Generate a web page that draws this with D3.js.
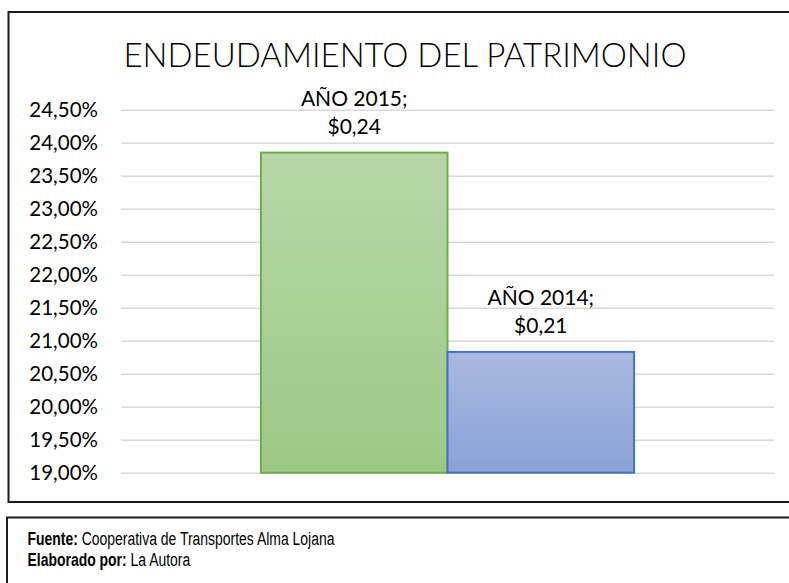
<!DOCTYPE html>
<html>
<head>
<meta charset="utf-8">
<script src="https://cdn.jsdelivr.net/npm/d3@7"></script>
<style>
  html, body { margin: 0; padding: 0; background: #fff; }
  svg { display: block; }
</style>
</head>
<body>
<div id="chart"></div>
<script>
// Endeudamiento del patrimonio: one category, two years
const categories = ["Endeudamiento del patrimonio"];
const seriesNames = ["AÑO 2015", "AÑO 2014"];
const seriesValues = [0.2385, 0.2083];
const yTicks = [0.19, 0.195, 0.20, 0.205, 0.21, 0.215, 0.22, 0.225, 0.23, 0.235, 0.24, 0.245];
const titleText = "ENDEUDAMIENTO DEL PATRIMONIO";
const footerLines = [
  ["Fuente:", " Cooperativa de Transportes Alma Lojana"],
  ["Elaborado por:", " La Autora"]
];

const W = 789, H = 583;
const plot = { left: 121, right: 774, top: 109.7, bottom: 472.7 };

const es = d3.formatLocale({ decimal: ",", thousands: ".", grouping: [3], currency: ["$", ""] });
const pct = es.format(".2%");
const money = es.format("$.2f");

const svg = d3.select("#chart").append("svg")
  .attr("width", W).attr("height", H);

// bar gradients
const defs = svg.append("defs");
const fills = [
  { id: "gGreen", top: "#b8d7a9", bottom: "#9cc985", stroke: "#6fac46" },
  { id: "gBlue", top: "#abb9e1", bottom: "#8ba1d7", stroke: "#4472c4" }
];
fills.forEach(f => {
  const lg = defs.append("linearGradient").attr("id", f.id)
    .attr("x1", 0).attr("y1", 0).attr("x2", 0).attr("y2", 1);
  lg.append("stop").attr("offset", "0%").attr("stop-color", f.top);
  lg.append("stop").attr("offset", "100%").attr("stop-color", f.bottom);
});

// chart frame
svg.append("rect")
  .attr("x", 8.5).attr("y", 12).attr("width", 800).attr("height", 490)
  .attr("fill", "#fff").attr("stroke", "#1a1a1a").attr("stroke-width", 2);

// title
svg.append("text")
  .attr("x", 405).attr("y", 66.7)
  .attr("text-anchor", "middle")
  .style("font-family", "Lato, 'Open Sans', sans-serif")
  .style("font-weight", 300)
  .style("font-size", "33px")
  .attr("fill", "#000")
  .text(titleText);

// scales
const y = d3.scaleLinear().domain([0.19, 0.245]).range([plot.bottom, plot.top]);
const x0 = d3.scaleBand().domain(categories).range([plot.left, plot.right])
  .paddingInner(0).paddingOuter(0.375);
const x1 = d3.scaleBand().domain(seriesNames).range([0, x0.bandwidth()]).padding(0);

// gridlines
const yAxis = d3.axisLeft(y).tickValues(yTicks).tickFormat(pct)
  .tickSize(-(plot.right - plot.left)).tickPadding(23);
const gAxis = svg.append("g")
  .attr("transform", `translate(${plot.left},0)`)
  .call(yAxis);
gAxis.select(".domain").remove();
gAxis.selectAll(".tick line").attr("stroke", "#d9d9d9").attr("stroke-width", 1.5);
gAxis.selectAll(".tick text")
  .style("font-family", "Lato, 'Open Sans', sans-serif")
  .style("font-size", "20.5px")
  .attr("fill", "#000");

// bars
const rows = seriesNames.map((s, i) => ({ category: categories[0], series: s, value: seriesValues[i], style: fills[i] }));
const gBars = svg.append("g");
gBars.selectAll("rect").data(rows).join("rect")
  .attr("x", d => x0(d.category) + x1(d.series))
  .attr("y", d => y(d.value))
  .attr("width", x1.bandwidth())
  .attr("height", d => y(0.19) - y(d.value))
  .attr("fill", d => `url(#${d.style.id})`)
  .attr("stroke", d => d.style.stroke)
  .attr("stroke-width", 2);

// data labels
const gLabels = svg.append("g")
  .style("font-family", "Lato, 'Open Sans', sans-serif")
  .style("font-size", "21px")
  .attr("fill", "#000")
  .attr("text-anchor", "middle");
rows.forEach(d => {
  const cx = x0(d.category) + x1(d.series) + x1.bandwidth() / 2;
  const top = y(d.value);
  gLabels.append("text").attr("x", cx).attr("y", top - 47).text(d.series + ";");
  gLabels.append("text").attr("x", cx).attr("y", top - 19).text(money(d.value));
});

// source box
svg.append("rect")
  .attr("x", 7).attr("y", 517.5).attr("width", 800).attr("height", 100)
  .attr("fill", "#fff").attr("stroke", "#1a1a1a").attr("stroke-width", 2);

// narrow sans lettering for the source lines
const gFoot = svg.append("g")
  .attr("transform", "translate(27.5,0) scale(0.775,1)")
  .style("font-family", "'Liberation Sans', Arial, sans-serif")
  .style("font-size", "18px")
  .attr("fill", "#000");
footerLines.forEach((ln, i) => {
  const t = gFoot.append("text").attr("x", 0).attr("y", 545.5 + i * 20.5);
  t.append("tspan").style("font-weight", "bold").text(ln[0]);
  t.append("tspan").text(ln[1]);
});
</script>
</body>
</html>
